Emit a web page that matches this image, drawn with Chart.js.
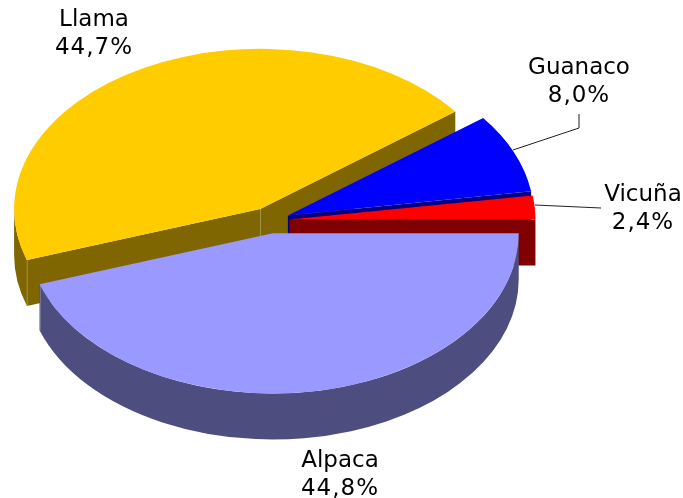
<!DOCTYPE html>
<html>
<head>
<meta charset="utf-8">
<script src="https://cdn.jsdelivr.net/npm/chart.js@4"></script>
<style>
  html, body { margin: 0; padding: 0; background: #fff; overflow: hidden; }
  canvas { display: block; }
</style>
</head>
<body>
<canvas id="chart" width="683" height="498"></canvas>
<script>
const categories = ['Alpaca', 'Llama', 'Guanaco', 'Vicuña'];
const shares = [44.8, 44.7, 8.0, 2.4];
const topColors = ['#9999ff', '#ffcc00', '#0000ff', '#ff0000'];
const sideColors = ['#4d4d80', '#806600', '#000080', '#800000'];

// back to front, so the walls overlap like in the picture
const drawOrder = [1, 2, 3, 0];
const squash = 0.651;
const depth = 46;
const explode = 20;

// label centres
const labelPos = [[340, 461], [94, 20], [579, 68], [643, 195]];
const leaders = [
  null,
  null,
  [[579, 114], [579, 128], [513, 150]],
  [[535, 205], [601, 208]],
];

// centre of a slice on screen, after exploding and squashing
function sliceCentre(arc) {
  const mid = (arc.startAngle + arc.endAngle) / 2;
  return [arc.x + Math.cos(mid) * explode, arc.y + Math.sin(mid) * explode * squash];
}

function drawTop(ctx, arc) {
  const mid = (arc.startAngle + arc.endAngle) / 2;
  ctx.save();
  ctx.translate(arc.x, arc.y);
  ctx.scale(1, squash);
  ctx.translate(-arc.x, -arc.y);
  ctx.translate(Math.cos(mid) * explode, Math.sin(mid) * explode);
  arc.draw(ctx);
  ctx.restore();
}

function drawFace(ctx, cx, cy, r, a) {
  const ex = cx + Math.cos(a) * r;
  const ey = cy + Math.sin(a) * r * squash;
  ctx.beginPath();
  ctx.moveTo(cx, cy);
  ctx.lineTo(ex, ey);
  ctx.lineTo(ex, ey + depth);
  ctx.lineTo(cx, cy + depth);
  ctx.closePath();
  ctx.fill();
}

// only the walls that face the viewer, otherwise they fringe the top's edge
function drawWalls(ctx, arc, color) {
  const [cx, cy] = sliceCentre(arc);
  const r = arc.outerRadius;
  ctx.save();
  ctx.fillStyle = color;
  if (arc.startAngle < Math.PI) {
    const from = arc.startAngle;
    const to = Math.min(arc.endAngle, Math.PI);
    ctx.beginPath();
    ctx.ellipse(cx, cy, r, r * squash, 0, from, to);
    ctx.ellipse(cx, cy + depth, r, r * squash, 0, to, from, true);
    ctx.closePath();
    ctx.fill();
  }
  if (Math.cos(arc.startAngle) < 0) drawFace(ctx, cx, cy, r, arc.startAngle);
  if (Math.cos(arc.endAngle) > 0) drawFace(ctx, cx, cy, r, arc.endAngle);
  ctx.restore();
}

// faint vertical line on a wall corner
function drawSeam(ctx, arc, angle, r) {
  const [cx, cy] = sliceCentre(arc);
  const x = cx + Math.cos(angle) * r;
  const y = cy + Math.sin(angle) * r * squash;
  ctx.save();
  ctx.strokeStyle = 'rgba(255,255,255,0.2)';
  ctx.lineWidth = 1;
  ctx.beginPath();
  ctx.moveTo(Math.round(x) + 0.5, y);
  ctx.lineTo(Math.round(x) + 0.5, y + depth);
  ctx.stroke();
  ctx.restore();
}

const pie3d = {
  id: 'pie3d',
  beforeDatasetDraw(chart, args) {
    const ctx = chart.ctx;
    const arcs = args.meta.data;
    drawOrder.forEach(i => {
      drawWalls(ctx, arcs[i], sideColors[i]);
      if (i === 1) {
        drawSeam(ctx, arcs[i], arcs[i].startAngle, arcs[i].outerRadius);
        drawSeam(ctx, arcs[i], arcs[i].startAngle, 0);
      }
      if (i === 0) {
        drawSeam(ctx, arcs[i], arcs[i].endAngle, arcs[i].outerRadius);
      }
      drawTop(ctx, arcs[i]);
    });
    return false;
  },
  afterDraw(chart) {
    const ctx = chart.ctx;
    ctx.save();
    ctx.strokeStyle = '#222';
    ctx.lineWidth = 1;
    leaders.forEach(pts => {
      if (!pts) return;
      ctx.beginPath();
      pts.forEach((p, n) => n ? ctx.lineTo(p[0], p[1]) : ctx.moveTo(p[0], p[1]));
      ctx.stroke();
    });
    ctx.fillStyle = '#000';
    ctx.font = '23px "DejaVu Sans"';
    ctx.textAlign = 'center';
    ctx.textBaseline = 'middle';
    categories.forEach((name, i) => {
      const [x, y] = labelPos[i];
      ctx.letterSpacing = '0px';
      ctx.fillText(name, x, y);
      ctx.letterSpacing = '1px';
      ctx.fillText(shares[i].toFixed(1).replace('.', ',') + '%', x, y + 28);
    });
    ctx.restore();
  }
};

new Chart(document.getElementById('chart'), {
  type: 'pie',
  data: {
    labels: categories,
    datasets: [{ data: shares, backgroundColor: topColors, borderWidth: 0 }]
  },
  options: {
    responsive: false,
    animation: false,
    rotation: 90,
    radius: 246,
    layout: { padding: { right: 144, bottom: 57 } },
    plugins: { legend: { display: false }, tooltip: { enabled: false } }
  },
  plugins: [pie3d]
});
</script>
</body>
</html>
